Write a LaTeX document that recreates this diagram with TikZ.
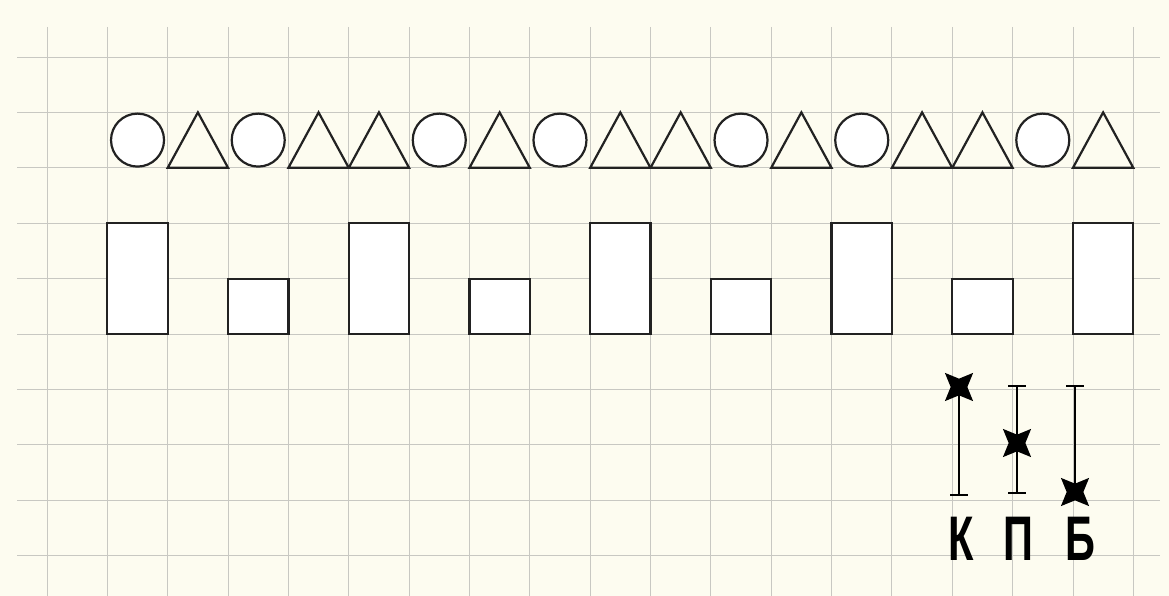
\documentclass[tikz,border=0pt]{standalone}
\usepackage{fontspec}
\setmainfont{Liberation Sans}
\usetikzlibrary{shapes.geometric}
\definecolor{paper}{RGB}{253,252,240}
\definecolor{gridc}{RGB}{200,200,194}
\definecolor{ink}{RGB}{34,34,34}
\begin{document}
\begin{tikzpicture}[x=1pt,y=-1pt,
  gridline/.style={gridc, line width=0.9pt},
  figline/.style={ink, line width=2.2pt, line join=miter},
  circfig/.style={figline, fill=white},
  rectfig/.style={figline, fill=white},
  segline/.style={black, line width=2.2pt},
  starmark/.style={star, star points=4, star point ratio=2.4, minimum size=40pt, inner sep=0pt, fill=black, shape border rotate=45},
  letter/.style={font=\bfseries\fontsize{63}{63}\selectfont, xscale=0.66, inner sep=0pt, anchor=base}
]
\fill[paper] (0,0) rectangle (1169,596);
\useasboundingbox (0,0) rectangle (1169,596);
\clip (0,0) rectangle (1169,596);
% grid
\foreach \k in {0,...,18} \draw[gridline] ({47+60.35*\k},27) -- ({47+60.35*\k},596);
\foreach \k in {0,...,9} \draw[gridline] (17,{57+55.4*\k}) -- (1160,{57+55.4*\k});
% row of circles and triangles
\foreach \i in {1,3,6,8,11,13,16}
  \draw[circfig] ({47+60.35*(\i+0.5)},140.1) circle (26.5);
\foreach \i in {2,4,5,7,9,10,12,14,15,17}
  \draw[figline] ({47+60.35*\i},167.8) -- ({47+60.35*(\i+0.5)},112.4) -- ({47+60.35*(\i+1)},167.8) -- cycle;
% rectangles
\foreach \i in {1,5,9,13,17}
  \draw[rectfig] ({47+60.35*\i},223.2) rectangle ({47+60.35*(\i+1)},334);
\foreach \i in {3,7,11,15}
  \draw[rectfig] ({47+60.35*\i},278.6) rectangle ({47+60.35*(\i+1)},334);
% markers K
\node[starmark] (kstar) at (959,387) {};
\coordinate (kbot) at (959,495);
\draw[segline] (kstar.center) -- (kbot);
\draw[segline] ([xshift=-9pt]kbot) -- ([xshift=9pt]kbot);
% markers P
\coordinate (ptop) at (1017,386);
\coordinate (pbot) at (1017,493);
\node[starmark] (pstar) at (1017,443) {};
\draw[segline] (ptop) -- (pbot);
\draw[segline] ([xshift=-9pt]ptop) -- ([xshift=9pt]ptop);
\draw[segline] ([xshift=-9pt]pbot) -- ([xshift=9pt]pbot);
% markers B
\coordinate (btop) at (1075,386);
\node[starmark] (bstar) at (1075,492) {};
\draw[segline] (btop) -- (bstar.center);
\draw[segline] ([xshift=-9pt]btop) -- ([xshift=9pt]btop);
% letters
\node[letter] (lk) at (961,560) {К};
\node[letter] (lp) at (1018,560) {П};
\node[letter] (lb) at (1080,560) {Б};
\end{tikzpicture}
\end{document}
